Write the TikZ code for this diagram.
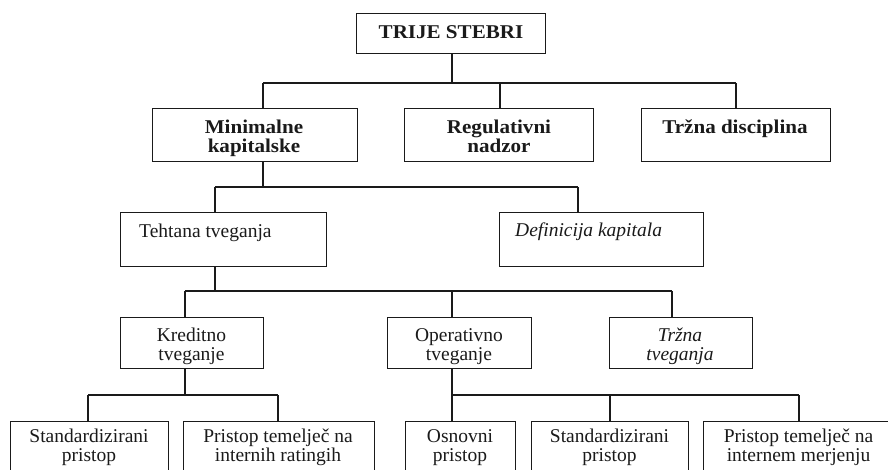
\documentclass[tikz,border=0pt]{standalone}
\usepackage{fontspec}
\setmainfont{Liberation Serif}[
  UprightFeatures={FakeStretch=1.0},
  ItalicFeatures={FakeStretch=1.0},
  BoldFeatures={FakeStretch=1.08}]
\newcommand\twoln[2]{\begin{tabular}[t]{@{}c@{}}#1\\#2\end{tabular}}
\definecolor{ink}{HTML}{1A1A1A}
\tikzset{
  box/.style={draw=ink, line width=1.3pt, anchor=north west, inner sep=0pt, fill=none},
  txt/.style={inner sep=0pt, anchor=base, text=ink, font=\fontsize{19.5}{19.8}\selectfont},
  link/.style={draw=ink, line width=1.3pt}
}
\begin{document}
\begin{tikzpicture}[x=1pt,y=-1pt]
\useasboundingbox (0,0) rectangle (888,469);
\fill[white] (0,0) rectangle (888,469);
\clip (0,0) rectangle (888,469);
% level 0
\node[box, minimum width=189pt, minimum height=40pt] (trije) at (356,13) {};
\node[txt] (ttrije) at (451,38) {\bfseries TRIJE STEBRI};
% level 1
\node[box, minimum width=205pt, minimum height=53pt] (min) at (152,108) {};
\node[box, minimum width=189pt, minimum height=53pt] (reg) at (404,108) {};
\node[box, minimum width=189pt, minimum height=53pt] (trzd) at (641,108) {};
\begin{scope}
\clip (152,108) rectangle (357,158);
\node[txt] (tmin) at (254,133) {\bfseries\twoln{Minimalne}{kapitalske}};
\end{scope}
\node[txt] (treg) at (499,133) {\bfseries\twoln{Regulativni}{nadzor}};
\node[txt] (ttrzd) at (735,133) {\bfseries Tržna disciplina};
% level 2
\node[box, minimum width=206pt, minimum height=54pt] (teh) at (120,212) {};
\node[box, minimum width=204pt, minimum height=54pt] (def) at (499,212) {};
\node[txt, anchor=base west] (tteh) at (139,237) {Tehtana tveganja};
\node[txt, anchor=base west] (tdef) at (515,236) {\itshape Definicija kapitala};
% level 3
\node[box, minimum width=143pt, minimum height=51pt] (kred) at (120,317) {};
\node[box, minimum width=144pt, minimum height=51pt] (oper) at (387,317) {};
\node[box, minimum width=143pt, minimum height=51pt] (trzt) at (609,317) {};
\node[txt] (tkred) at (191.5,341) {\twoln{Kreditno}{tveganje}};
\node[txt] (toper) at (459,341) {\twoln{Operativno}{tveganje}};
\node[txt] (ttrzt) at (680,341) {\itshape\twoln{Tržna}{tveganja}};
% level 4
\node[box, minimum width=158pt, minimum height=70pt] (b1) at (10,421) {};
\node[box, minimum width=191pt, minimum height=70pt] (b2) at (183,421) {};
\node[box, minimum width=110pt, minimum height=70pt] (b3) at (405,421) {};
\node[box, minimum width=157pt, minimum height=70pt] (b4) at (531,421) {};
\node[box, minimum width=192pt, minimum height=70pt] (b5) at (703,421) {};
\node[txt] (tb1) at (89,442) {\twoln{Standardizirani}{pristop}};
\node[txt] (tb2) at (278,442) {\twoln{Pristop temelječ na}{internih ratingih}};
\node[txt] (tb3) at (460,442) {\twoln{Osnovni}{pristop}};
\node[txt] (tb4) at (609.5,442) {\twoln{Standardizirani}{pristop}};
\node[txt] (tb5) at (798.5,442) {\twoln{Pristop temelječ na}{internem merjenju}};
% junctions
\coordinate (j0) at (452,83);
\coordinate (j0a) at (263,83);
\coordinate (j0b) at (500,83);
\coordinate (j0c) at (736,83);
\coordinate (j1) at (263,187);
\coordinate (j1a) at (215,187);
\coordinate (j1b) at (578,187);
\coordinate (j2) at (215,291);
\coordinate (j2a) at (185,291);
\coordinate (j2b) at (452,291);
\coordinate (j2c) at (672,291);
\coordinate (j3) at (185,395);
\coordinate (j3a) at (88,395);
\coordinate (j3b) at (278,395);
\coordinate (j4) at (452,395);
\coordinate (j4a) at (610,395);
\coordinate (j4b) at (799,395);
% connectors
\draw[link] (trije.south -| j0) -- (j0);
\draw[link] (j0a) -- (j0c);
\draw[link] (j0a) -- (j0a |- min.north);
\draw[link] (j0b) -- (j0b |- reg.north);
\draw[link] (j0c) -- (j0c |- trzd.north);
\draw[link] (min.south -| j1) -- (j1);
\draw[link] (j1a) -- (j1b);
\draw[link] (j1a) -- (j1a |- teh.north);
\draw[link] (j1b) -- (j1b |- def.north);
\draw[link] (teh.south -| j2) -- (j2);
\draw[link] (j2a) -- (j2c);
\draw[link] (j2a) -- (j2a |- kred.north);
\draw[link] (j2b) -- (j2b |- oper.north);
\draw[link] (j2c) -- (j2c |- trzt.north);
\draw[link] (kred.south -| j3) -- (j3);
\draw[link] (j3a) -- (j3b);
\draw[link] (j3a) -- (j3a |- b1.north);
\draw[link] (j3b) -- (j3b |- b2.north);
\draw[link] (oper.south -| j4) -- (j4);
\draw[link] (j4) -- (j4b);
\draw[link] (j4) -- (j4 |- b3.north);
\draw[link] (j4a) -- (j4a |- b4.north);
\draw[link] (j4b) -- (j4b |- b5.north);
\end{tikzpicture}
\end{document}
